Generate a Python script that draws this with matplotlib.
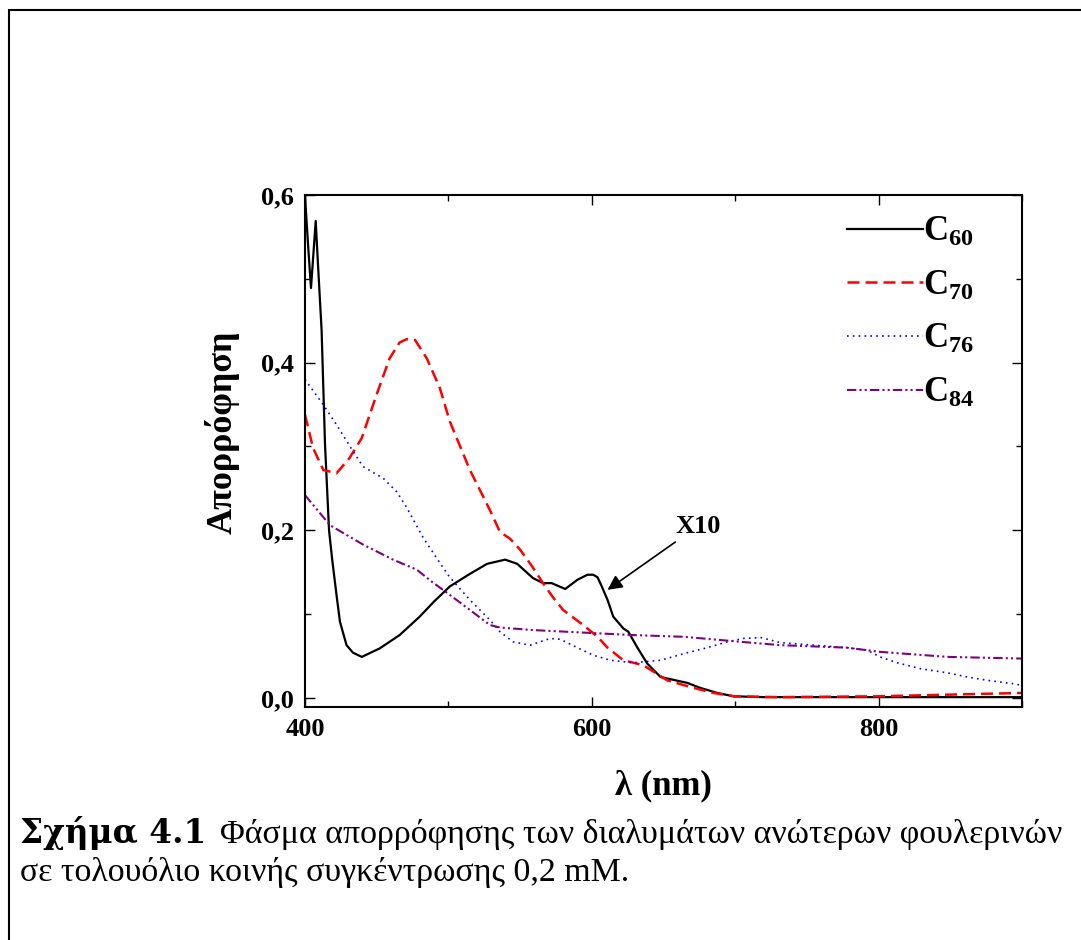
import matplotlib
matplotlib.use("Agg")
import matplotlib.pyplot as plt
from matplotlib.ticker import MultipleLocator, FixedLocator, FuncFormatter

plt.rcParams['font.family'] = ['Liberation Serif', 'DejaVu Serif']
plt.rcParams['mathtext.fontset'] = 'custom'
plt.rcParams['mathtext.rm'] = 'Liberation Serif'
plt.rcParams['mathtext.bf'] = 'Liberation Serif:bold'

# spectra (C60 already multiplied by 10)
wl_c60 = [400, 402, 404.2, 405.5, 407.5, 409, 411.6, 414, 416.8, 419, 422, 424.4,
          429, 433.5, 439.6, 452, 466, 480, 490, 501, 515, 527, 539.6, 548, 559,
          566, 572, 581.5, 590, 597, 601, 604, 607, 611, 615, 622, 625.5, 631.5,
          638.7, 648, 666.6, 675.7, 687.6, 698.8, 720, 800, 900]
a_c60 = [0.60, 0.545, 0.489, 0.52, 0.569, 0.52, 0.439, 0.302, 0.20, 0.165, 0.123,
         0.091, 0.063, 0.054, 0.049, 0.059, 0.075, 0.097, 0.115, 0.133, 0.148,
         0.160, 0.165, 0.160, 0.143, 0.137, 0.137, 0.130, 0.141, 0.147, 0.147,
         0.144, 0.133, 0.117, 0.097, 0.083, 0.079, 0.061, 0.041, 0.025, 0.018,
         0.012, 0.006, 0.002, 0.001, 0.001, 0.001]

wl_c70 = [400, 405.7, 412.8, 422, 431, 439.6, 450, 459, 466, 471, 476.8, 485, 494,
          501, 515, 529, 536, 543, 550, 558, 566, 573, 580, 594, 604, 611, 622,
          636, 652.7, 671, 685, 699, 730, 800, 850, 900]
a_c70 = [0.338, 0.298, 0.272, 0.268, 0.286, 0.310, 0.362, 0.405, 0.424, 0.428,
         0.427, 0.405, 0.370, 0.330, 0.272, 0.224, 0.198, 0.190, 0.177, 0.158,
         0.137, 0.120, 0.105, 0.087, 0.073, 0.060, 0.045, 0.039, 0.021, 0.012,
         0.006, 0.002, 0.001, 0.002, 0.004, 0.006]

wl_c76 = [400, 412.7, 422, 433.6, 440.5, 454.6, 464, 471, 482.5, 496.5, 501, 515,
          529, 536, 545, 557, 571, 578, 590, 601, 613, 629, 648, 666.7, 680.6,
          694.6, 705.7, 718, 731.6, 754.6, 778, 792, 801, 813, 829, 848, 862, 876,
          894, 900]
a_c76 = [0.380, 0.350, 0.326, 0.294, 0.276, 0.262, 0.246, 0.227, 0.191, 0.155,
         0.144, 0.117, 0.093, 0.079, 0.067, 0.063, 0.071, 0.070, 0.060, 0.051,
         0.045, 0.042, 0.045, 0.054, 0.060, 0.067, 0.071, 0.072, 0.066, 0.063,
         0.060, 0.057, 0.049, 0.042, 0.035, 0.030, 0.025, 0.021, 0.017, 0.015]

wl_c84 = [400, 417.5, 440.5, 461.4, 478, 489, 501, 515, 529, 536, 559, 594, 629,
          664, 703.7, 731.6, 778, 801, 848, 900]
a_c84 = [0.242, 0.206, 0.183, 0.165, 0.153, 0.138, 0.123, 0.105, 0.087, 0.084,
         0.081, 0.078, 0.075, 0.073, 0.067, 0.063, 0.060, 0.055, 0.049, 0.047]

fig = plt.figure(figsize=(10.81, 9.40), dpi=100)
ax = fig.add_axes([0.2821, 0.2482, 0.6633, 0.5444])

ax.plot(wl_c60, a_c60, color='black', lw=1.6, label=r'$\mathbf{C_{60}}$')
ax.plot(wl_c70, a_c70, color='#ff0000', lw=1.8, ls=(0, (4.8, 2.4)),
        label=r'$\mathbf{C_{70}}$')
ax.plot(wl_c76, a_c76, color='#0000ff', lw=1.2, ls=(0, (1, 2.5)),
        label=r'$\mathbf{C_{76}}$')
ax.plot(wl_c84, a_c84, color='#800080', lw=1.5, ls=(0, (4.5, 1.5, 1, 1.5, 1, 1.5)),
        label=r'$\mathbf{C_{84}}$')

ax.set_xlim(400, 900)
ax.set_ylim(-0.0104, 0.6)
ax.xaxis.set_major_locator(FixedLocator([400, 600, 800]))
ax.xaxis.set_minor_locator(FixedLocator([500, 700, 900]))
ax.yaxis.set_major_locator(MultipleLocator(0.2))
ax.yaxis.set_minor_locator(MultipleLocator(0.1))
ax.yaxis.set_major_formatter(FuncFormatter(lambda v, p: f"{v:.1f}".replace('.', ',')))
ax.tick_params(which='both', direction='in', top=True, right=True, width=1.0)
ax.tick_params(which='major', length=7.5)
ax.tick_params(which='minor', length=4)
ax.tick_params(axis='both', labelsize=19, pad=8)
for lab in ax.get_xticklabels() + ax.get_yticklabels():
    lab.set_fontweight('bold')
for sp in ax.spines.values():
    sp.set_linewidth(1.5)

fig.text(0.614, 1 - 786 / 940, 'λ (nm)', fontsize=25, fontweight='bold',
         ha='center', va='center')
fig.text(222 / 1081, 1 - 432 / 940, 'Απορρόφηση', fontsize=26, fontweight='bold',
         rotation=90, ha='center', va='center')

ax.annotate('X10', xy=(611, 0.129), xytext=(674, 0.205), fontsize=19,
            fontweight='bold', ha='center', va='center',
            arrowprops=dict(arrowstyle='-|>', color='black', lw=1.2,
                            mutation_scale=22, shrinkB=0))

ax.legend(loc='upper left', bbox_to_anchor=(0.756, 0.959), frameon=False,
          fontsize=25, handlelength=2.2, handletextpad=0.0, labelspacing=0.59,
          borderpad=0, borderaxespad=0)

# caption
cap_size = 24.4
t1 = fig.text(20 / 1081, 1 - 843 / 940, 'Σχήμα 4.1', fontsize=23.6,
              fontweight='bold', family='DejaVu Serif', ha='left', va='baseline')
fig.canvas.draw()
bb = t1.get_window_extent(fig.canvas.get_renderer())
fig.text(bb.x1 / 1081 + 14 / 1081, 1 - 843 / 940,
         'Φάσμα απορρόφησης των διαλυμάτων ανώτερων φουλερινών',
         fontsize=cap_size, ha='left', va='baseline')
fig.text(20 / 1081, 1 - 881 / 940, 'σε τολουόλιο κοινής συγκέντρωσης 0,2 mM.',
         fontsize=cap_size, ha='left', va='baseline')

# outer frame (right and bottom run off the page)
fig.add_artist(plt.Rectangle((9 / 1081, -0.05), 1.1, 1 - 10 / 940 + 0.05,
                             transform=fig.transFigure, fill=False,
                             edgecolor='black', lw=1.5, clip_on=False))

fig.savefig('out.png', dpi=100)
